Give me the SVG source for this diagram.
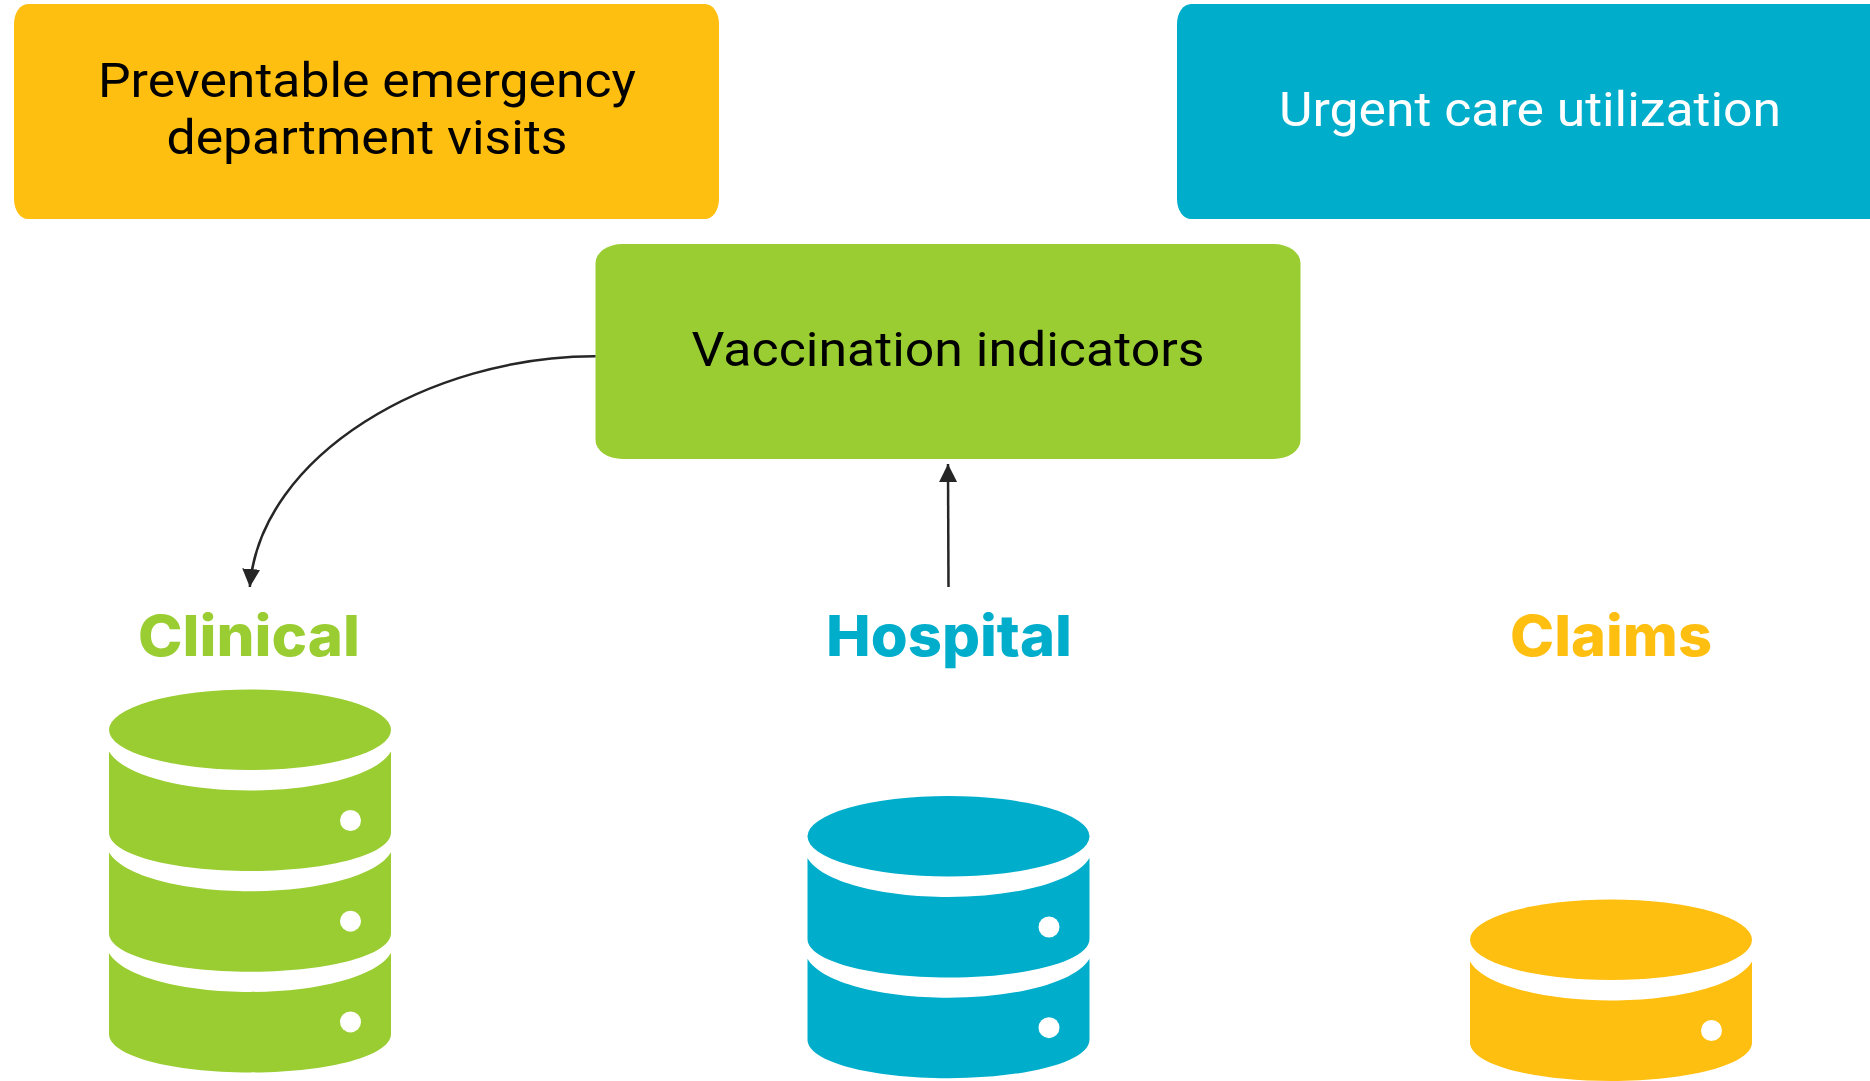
<svg xmlns="http://www.w3.org/2000/svg" xmlns:xlink="http://www.w3.org/1999/xlink" width="1870" height="1081" viewBox="0 0 1870 1081">
<style>
.box{font-family:"Roboto","Liberation Sans",sans-serif;font-size:49px;text-anchor:middle}
.head{font-family:"Inter","Liberation Sans",sans-serif;font-size:57px;font-weight:800;text-anchor:middle}
.hole{fill:#fff}
.conn{fill:none;stroke:#262626;stroke-width:2.5}
</style>
<defs>
<g id="top"><ellipse cx="141" cy="40.3" rx="141" ry="40.3"/></g>
<g id="seg"><path d="M0,62 C14,86 75,101 141,101 C207,101 268,86 282,62 V143 C282,165 219,181.5 141,181.5 C63,181.5 0,165 0,143 Z"/><circle class="hole" cx="241.5" cy="131" r="10.5"/></g>
<marker id="ah" markerUnits="userSpaceOnUse" markerWidth="19" markerHeight="19" refX="18" refY="9" orient="auto"><path d="M0,0 L18,9 L0,18 Z" fill="#262626"/></marker>
</defs>
<g id="node-preventable"><rect x="14" y="4" width="705" height="215" rx="14" ry="20" fill="#FFBF10"/>
<text class="box" x="367" y="96.5" textLength="538" lengthAdjust="spacingAndGlyphs">Preventable emergency</text>
<text class="box" x="367" y="154" textLength="401" lengthAdjust="spacingAndGlyphs">department visits</text></g>
<g id="node-urgent"><rect x="1177" y="4" width="720" height="215" rx="14" ry="20" fill="#00AECB"/>
<text class="box" x="1530" y="126" fill="#fff" textLength="502" lengthAdjust="spacingAndGlyphs">Urgent care utilization</text></g>
<g id="node-vaccination"><rect x="595.5" y="244" width="705" height="215" rx="27" ry="19" fill="#9ACD32"/>
<text class="box" x="948" y="366" textLength="513" lengthAdjust="spacingAndGlyphs">Vaccination indicators</text></g>
<g id="connectors">
<path class="conn" marker-end="url(#ah)" d="M595.5,356.3 C430,356 260,455 249.8,587"/>
<path class="conn" marker-end="url(#ah)" d="M948.5,587 L948,464"/>
</g>
<g id="node-clinical" fill="#9ACD32"><text class="head" x="249" y="656" textLength="222" lengthAdjust="spacingAndGlyphs">Clinical</text>
<use xlink:href="#top" x="109" y="689.5"/><use xlink:href="#seg" x="109" y="689.5"/><use xlink:href="#seg" x="109" y="790.2"/><use xlink:href="#seg" x="109" y="890.9"/></g>
<g id="node-hospital" fill="#00AECB"><text class="head" x="949" y="656" textLength="246" lengthAdjust="spacingAndGlyphs">Hospital</text>
<use xlink:href="#top" x="807.5" y="796"/><use xlink:href="#seg" x="807.5" y="796"/><use xlink:href="#seg" x="807.5" y="896.7"/></g>
<g id="node-claims" fill="#FFBF10"><text class="head" x="1611" y="656" textLength="202" lengthAdjust="spacingAndGlyphs">Claims</text>
<use xlink:href="#top" x="1470" y="899.5"/><use xlink:href="#seg" x="1470" y="899.5"/></g>
</svg>
